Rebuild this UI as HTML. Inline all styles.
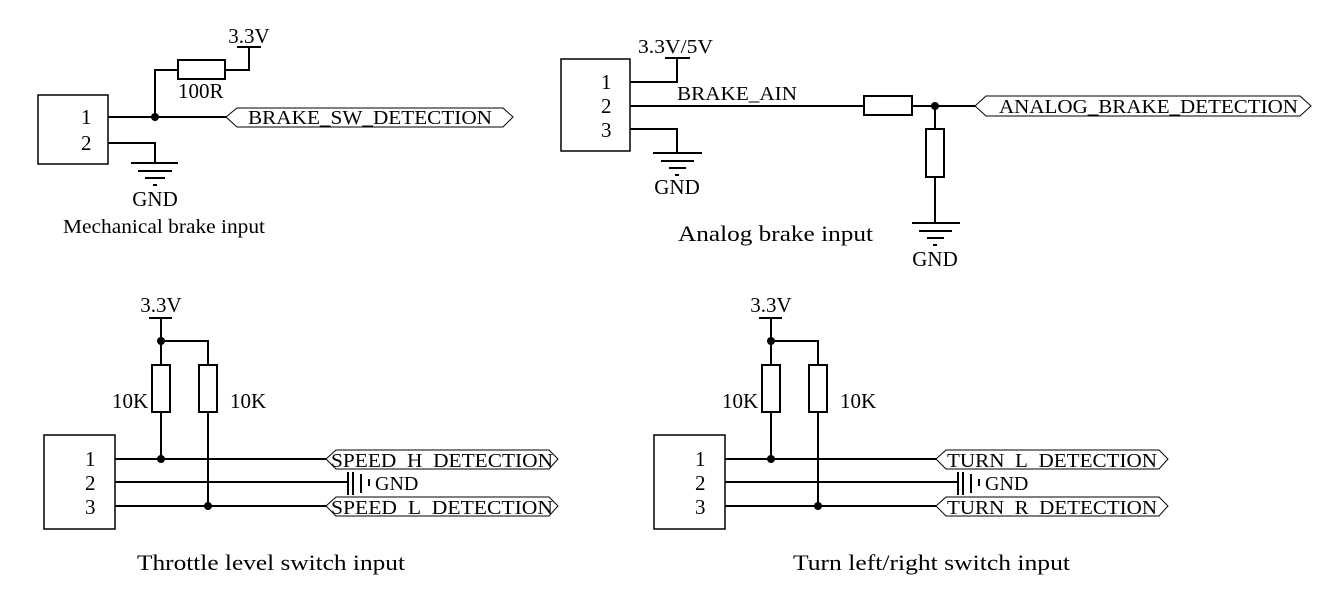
<!DOCTYPE html>
<html><head><meta charset="utf-8"><style>
html,body{margin:0;padding:0;background:#fff;}
svg{display:block;}
text{font-family:"Liberation Serif",serif;fill:#000;}
</style></head><body>
<svg width="1327" height="599" viewBox="0 0 1327 599" xmlns="http://www.w3.org/2000/svg">
<g stroke="#000" stroke-width="2" fill="none">
<rect x="38" y="95" width="70" height="69" stroke-width="1.5"/>
<polyline points="108,117 226,117"/>
<polyline points="155,117 155,70 178,70"/>
<rect x="178" y="60" width="47" height="19"/>
<polyline points="225,70 249,70 249,47"/>
<line x1="237" y1="47" x2="261" y2="47"/>
<polyline points="108,143 155,143 155,163"/>
<line x1="131" y1="163" x2="178" y2="163"/>
<line x1="138" y1="171" x2="172" y2="171"/>
<line x1="145" y1="178" x2="165" y2="178"/>
<line x1="153" y1="185" x2="157" y2="185"/>
<polygon points="226,117 237,108 503,108 513,117 503,127 237,127" stroke-width="1"/>
<rect x="561" y="59" width="69" height="92" stroke-width="1.5"/>
<polyline points="630,82 677,82 677,58"/>
<line x1="665" y1="58" x2="690" y2="58"/>
<line x1="630" y1="106" x2="864" y2="106"/>
<rect x="864" y="96" width="48" height="19"/>
<line x1="912" y1="106" x2="975" y2="106"/>
<polyline points="630,129 677,129 677,153"/>
<line x1="653" y1="153" x2="702" y2="153"/>
<line x1="661" y1="161" x2="694" y2="161"/>
<line x1="669" y1="168" x2="686" y2="168"/>
<line x1="675" y1="175" x2="679" y2="175"/>
<line x1="935" y1="106" x2="935" y2="129"/>
<rect x="926" y="129" width="18" height="48"/>
<line x1="935" y1="177" x2="935" y2="223"/>
<line x1="912" y1="223" x2="960" y2="223"/>
<line x1="919" y1="231" x2="952" y2="231"/>
<line x1="927" y1="238" x2="944" y2="238"/>
<line x1="933" y1="245" x2="937" y2="245"/>
<polygon points="975,106 986,96 1300,96 1311,106 1300,116 986,116" stroke-width="1"/>
</g>
<g fill="#000">
<circle cx="155" cy="117" r="4"/>
<circle cx="935" cy="106" r="4"/>
</g>
<text x="249" y="43" font-size="21" text-anchor="middle">3.3V</text>
<text x="178" y="98" font-size="21">100R</text>
<text x="81" y="124" font-size="21">1</text>
<text x="81" y="150" font-size="21">2</text>
<text x="248" y="124" font-size="20" textLength="244" lengthAdjust="spacingAndGlyphs">BRAKE_SW_DETECTION</text>
<text x="155" y="206" font-size="21" text-anchor="middle">GND</text>
<text x="63" y="233" font-size="20" textLength="202" lengthAdjust="spacingAndGlyphs">Mechanical brake input</text>

<text x="638" y="53" font-size="20" textLength="75" lengthAdjust="spacingAndGlyphs">3.3V/5V</text>
<text x="601" y="89" font-size="21">1</text>
<text x="601" y="113" font-size="21">2</text>
<text x="601" y="137" font-size="21">3</text>
<text x="677" y="100" font-size="20" textLength="120" lengthAdjust="spacingAndGlyphs">BRAKE_AIN</text>
<text x="677" y="194" font-size="21" text-anchor="middle">GND</text>
<text x="935" y="266" font-size="21" text-anchor="middle">GND</text>
<text x="678" y="241" font-size="22" textLength="195" lengthAdjust="spacingAndGlyphs">Analog brake input</text>
<text x="999" y="113" font-size="20" textLength="299" lengthAdjust="spacingAndGlyphs">ANALOG_BRAKE_DETECTION</text>

<g id="blk">
<g stroke="#000" stroke-width="2" fill="none">
<rect x="44" y="435" width="71" height="94" stroke-width="1.5"/>
<line x1="149" y1="318" x2="172" y2="318"/>
<polyline points="161,318 161,341 208,341 208,365"/>
<line x1="161" y1="341" x2="161" y2="365"/>
<rect x="152" y="365" width="18" height="47"/>
<rect x="199" y="365" width="18" height="47"/>
<line x1="161" y1="412" x2="161" y2="459"/>
<line x1="208" y1="412" x2="208" y2="506"/>
<line x1="115" y1="459" x2="326" y2="459"/>
<line x1="115" y1="482" x2="348" y2="482"/>
<line x1="115" y1="506" x2="326" y2="506"/>
<line x1="348" y1="472" x2="348" y2="495"/>
<line x1="353" y1="472" x2="353" y2="495"/>
<line x1="361" y1="474" x2="361" y2="493"/>
<line x1="369" y1="479" x2="369" y2="486"/>
</g>
<g fill="#000">
<circle cx="161" cy="341" r="4"/>
<circle cx="161" cy="459" r="4"/>
<circle cx="208" cy="506" r="4"/>
</g>
<text x="161" y="312" font-size="21" text-anchor="middle">3.3V</text>
<text x="112" y="408" font-size="21">10K</text>
<text x="230" y="408" font-size="21">10K</text>
<text x="85" y="466" font-size="21">1</text>
<text x="85" y="490" font-size="21">2</text>
<text x="85" y="514" font-size="21">3</text>
<text x="375" y="490" font-size="20">GND</text>
</g>
<g stroke="#000" stroke-width="1" fill="none">
<polygon points="326,459 336,450 549,450 558,459 549,469 336,469"/>
<polygon points="326,506 336,497 549,497 558,506 549,516 336,516"/>
<polygon points="936,459 946,450 1159,450 1168,459 1159,469 946,469"/>
<polygon points="936,506 946,497 1159,497 1168,506 1159,516 946,516"/>
</g>
<text x="331" y="467" font-size="20" textLength="222" lengthAdjust="spacingAndGlyphs">SPEED_H_DETECTION</text>
<text x="331" y="514" font-size="20" textLength="222" lengthAdjust="spacingAndGlyphs">SPEED_L_DETECTION</text>
<text x="137" y="570" font-size="22" textLength="268" lengthAdjust="spacingAndGlyphs">Throttle level switch input</text>
<use href="#blk" transform="translate(610,0)"/>
<text x="947" y="467" font-size="20" textLength="210" lengthAdjust="spacingAndGlyphs">TURN_L_DETECTION</text>
<text x="947" y="514" font-size="20" textLength="210" lengthAdjust="spacingAndGlyphs">TURN_R_DETECTION</text>
<text x="793" y="570" font-size="22" textLength="277" lengthAdjust="spacingAndGlyphs">Turn left/right switch input</text>
</svg>
</body></html>
